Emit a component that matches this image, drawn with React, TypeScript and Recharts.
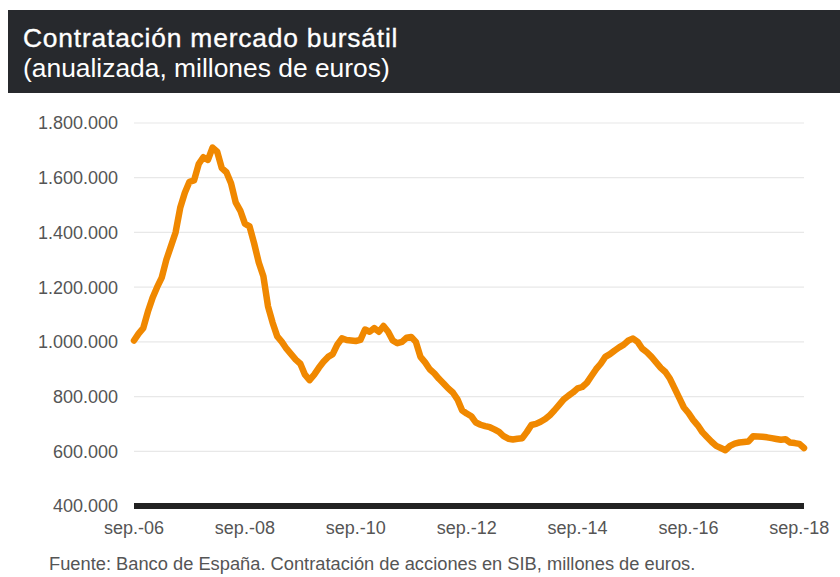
import { LineChart, Line, XAxis, YAxis, CartesianGrid } from "recharts";

// monthly, sep-06 .. oct-18 (annualised trading, EUR millions)
const values = [
  1005000, 1030000, 1050000, 1110000, 1160000, 1200000, 1235000, 1300000, 1350000, 1400000,
  1490000, 1545000, 1585000, 1590000, 1650000, 1675000, 1665000, 1710000, 1695000, 1635000,
  1620000, 1580000, 1510000, 1480000, 1432000, 1422000, 1360000, 1290000, 1240000, 1130000,
  1070000, 1020000, 1000000, 975000, 955000, 935000, 920000, 880000, 860000, 880000,
  905000, 927000, 945000, 955000, 990000, 1013000, 1007000, 1005000, 1003000, 1007000,
  1045000, 1037000, 1050000, 1037000, 1058000, 1037000, 1005000, 995000, 1000000, 1015000,
  1018000, 1000000, 945000, 925000, 900000, 885000, 865000, 848000, 830000, 815000,
  790000, 750000, 738000, 728000, 705000, 697000, 692000, 688000, 680000, 671000,
  655000, 646000, 643000, 646000, 648000, 670000, 696000, 700000, 708000, 718000,
  732000, 750000, 770000, 790000, 803000, 815000, 830000, 835000, 850000, 875000,
  900000, 920000, 945000, 955000, 968000, 980000, 990000, 1005000, 1012000, 1000000,
  975000, 962000, 945000, 925000, 905000, 890000, 865000, 830000, 795000, 760000,
  740000, 715000, 695000, 670000, 652000, 635000, 620000, 612000, 604000, 620000,
  628000, 632000, 634000, 636000, 655000, 654000, 653000, 651000, 648000, 645000,
  642000, 644000, 632000, 630000, 627000, 612000,
];

const monthNames = ["ene.", "feb.", "mar.", "abr.", "may.", "jun.", "jul.", "ago.", "sep.", "oct.", "nov.", "dic."];
const months = values.map(
  (_, k) => `${monthNames[(8 + k) % 12]}-${String(6 + Math.floor((8 + k) / 12)).padStart(2, "0")}`
);
const yTicks = [400000, 600000, 800000, 1000000, 1200000, 1400000, 1600000, 1800000];

const data = months.map((m, k) => ({ month: m, value: values[k] }));

const font = "'Liberation Sans', Arial, Helvetica, sans-serif";

function miles(v: number) {
  return String(v).replace(/\B(?=(\d{3})+(?!\d))/g, ".");
}

export default function App() {
  return (
    <div style={{ position: "absolute", left: 0, top: 0, width: 840, height: 577, background: "#fff", fontFamily: font, overflow: "hidden" }}>
      <div style={{ position: "absolute", left: 8, top: 10, width: 832, height: 83, background: "#27292d" }} />
      <div style={{ position: "absolute", left: 23, top: 23, color: "#fff", fontSize: 26.4, lineHeight: "30px", whiteSpace: "nowrap" }}>
        <div style={{ WebkitTextStroke: "0.35px #fff", letterSpacing: 0.8 }}>Contratación mercado bursátil</div>
        <div>(anualizada, millones de euros)</div>
      </div>
      <div style={{ position: "absolute", left: 0, top: 0 }}>
        <LineChart width={840} height={560} data={data} margin={{ top: 123, right: 36, left: 0, bottom: 24 }}>
          <CartesianGrid vertical={false} stroke="#e8e8e8" strokeWidth={1.2} />
          <XAxis
            dataKey="month"
            interval={23}
            tickLine={false}
            axisLine={{ stroke: "#222", strokeWidth: 6 }}
            tickMargin={9}
            height={30}
            tick={{ fill: "#555", fontSize: 18, fontFamily: font }}
          />
          <YAxis
            domain={[400000, 1800000]}
            ticks={yTicks}
            tickFormatter={miles}
            tickLine={false}
            axisLine={false}
            tickMargin={10}
            width={134}
            tick={{ fill: "#555", fontSize: 18, fontFamily: font }}
          />
          <Line
            type="linear"
            dataKey="value"
            stroke="#f08800"
            strokeWidth={6.5}
            strokeLinejoin="round"
            strokeLinecap="round"
            dot={false}
            isAnimationActive={false}
          />
        </LineChart>
      </div>
      <div style={{ position: "absolute", left: 49, top: 553, color: "#555", fontSize: 18.3, lineHeight: "21px", whiteSpace: "nowrap" }}>
        Fuente: Banco de España. Contratación de acciones en SIB, millones de euros.
      </div>
    </div>
  );
}
